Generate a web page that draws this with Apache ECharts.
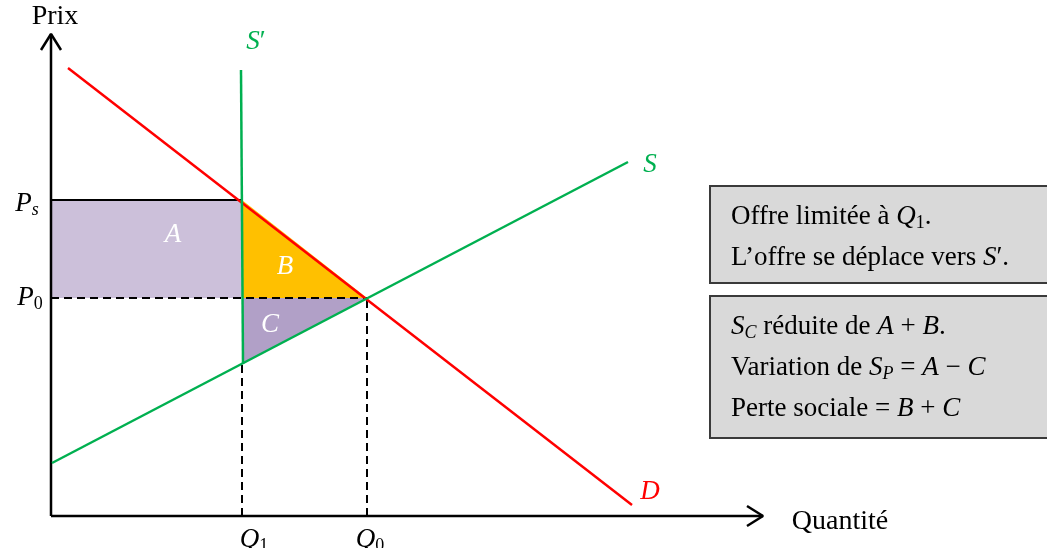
<!DOCTYPE html>
<html>
<head>
<meta charset="utf-8">
<script src="https://cdn.jsdelivr.net/npm/echarts@6/dist/echarts.min.js"></script>
<style>
  html, body { margin: 0; padding: 0; background: #fff; }
  #chart { width: 1047px; height: 548px; }
</style>
</head>
<body>
<div id="chart"></div>
<script>
  // quantités / prix (origine = croisement des axes)
  const Q1 = 191
  const Q0 = 316
  const P0 = 218
  const Ps = 316

  const demandLine = [[17, 448], [581, 11]]
  const supplyLine = [[1, 53], [577, 354]]
  const quotaLine = [[190, 446], [192, 152]]

  const areaA = [[0, P0], [Q1, P0], [Q1, Ps], [0, Ps]]
  const areaB = [[Q1, Ps], [Q1, P0], [Q0, P0]]
  const areaC = [[Q1, P0], [Q0, P0], [Q1, 152]]

  const yAxisLine = [[0, 0], [0, 482]]
  const xAxisLine = [[0, 0], [712, 0]]
  const yArrow = [[-10, 466], [0, 482], [10, 466]]
  const xArrow = [[696, 10], [712, 0], [696, -10]]

  const dashP0 = [[0, P0], [Q0, P0]]
  const dashQ1 = [[Q1, 0], [Q1, 152]]
  const dashQ0 = [[Q0, 0], [Q0, P0]]
  const solidPs = [[0, Ps], [Q1, Ps]]

  // étiquettes : [x, y, texte, couleur]
  const labels = [
    [4, 499, '{t|Prix}', '#000'],
    [789, -6, '{t|Quantité}', '#000'],
    [205, 474, '{i|S}′', '#00B050'],
    [599, 351, '{i|S}', '#00B050'],
    [599, 24, '{i|D}', '#FF0000'],
    [-24, 312, '{i|P}{sub|s}', '#000'],
    [-21, 218, '{i|P}{n|0}', '#000'],
    [203, -24, '{i|Q}{n|1}', '#000'],
    [319, -24, '{i|Q}{n|0}', '#000'],
    [122, 281, '{i|A}', '#fff'],
    [234, 249, '{i|B}', '#fff'],
    [219, 191, '{i|C}', '#fff']
  ]

  const box1Lines = ['Offre limitée à {i|Q}{n|1}.', 'L’offre se déplace vers {i|S}′.']
  const box2Lines = ['{i|S}{sub|C} réduite de {i|A} + {i|B}.', 'Variation de {i|S}{sub|P} = {i|A} − {i|C}', 'Perte sociale = {i|B} + {i|C}']

  const serif = '"Liberation Serif", "DejaVu Serif", serif'
  const richText = {
    t: { fontFamily: serif, fontSize: 28 },
    i: { fontStyle: 'italic', fontFamily: serif, fontSize: 27 },
    sub: { fontStyle: 'italic', fontFamily: serif, fontSize: 18, padding: [12, 0, 0, 0] },
    n: { fontFamily: serif, fontSize: 18, padding: [12, 0, 0, 0] }
  }

  let myChart = echarts.init(document.getElementById('chart'))

  function lineSeries(data, color, width, dashed) {
    return {
      type: 'line',
      data: data,
      symbol: 'none',
      silent: true,
      z: 5,
      lineStyle: { color: color, width: width, type: dashed ? [8, 5] : 'solid' }
    }
  }

  const polys = [
    { pts: areaA, color: '#CCC0DA' },
    { pts: areaB, color: '#FFC000' },
    { pts: areaC, color: '#B1A0C7' }
  ]

  function boxGraphic(top, height, lines) {
    let out = [{
      type: 'rect',
      shape: { x: 710, y: top, width: 345, height: height },
      style: { fill: '#D9D9D9', stroke: '#3a3a3a', lineWidth: 2 }
    }]
    lines.forEach((t, i) => {
      out.push({
        type: 'text',
        x: 731,
        y: top + 31 + i * 41,
        style: {
          text: t,
          fontFamily: serif,
          fontSize: 27,
          fill: '#000',
          verticalAlign: 'middle',
          rich: {
            i: { fontStyle: 'italic', fontFamily: serif, fontSize: 27 },
            sub: { fontStyle: 'italic', fontFamily: serif, fontSize: 18, padding: [12, 0, 0, 0] },
            n: { fontFamily: serif, fontSize: 18, padding: [12, 0, 0, 0] }
          }
        }
      })
    })
    return out
  }

  let option = {
    animation: false,
    grid: { left: 0, right: 0, top: 0, bottom: 0 },
    xAxis: { type: 'value', min: -51, max: 996, show: false },
    yAxis: { type: 'value', min: -32, max: 516, show: false },
    series: [
      {
        type: 'custom',
        silent: true,
        z: 1,
        data: [[0], [1], [2]],
        renderItem: function (params, api) {
          let p = polys[params.dataIndex]
          return {
            type: 'polygon',
            shape: { points: p.pts.map(pt => api.coord(pt)) },
            style: { fill: p.color }
          }
        }
      },
      lineSeries(dashP0, '#000', 2, true),
      lineSeries(dashQ1, '#000', 2, true),
      lineSeries(dashQ0, '#000', 2, true),
      lineSeries(solidPs, '#000', 2, false),
      lineSeries(yAxisLine, '#000', 2.5, false),
      lineSeries(xAxisLine, '#000', 2.5, false),
      lineSeries(yArrow, '#000', 2.5, false),
      lineSeries(xArrow, '#000', 2.5, false),
      lineSeries(demandLine, '#FF0000', 2.5, false),
      lineSeries(supplyLine, '#00B050', 2.5, false),
      lineSeries(quotaLine, '#00B050', 2.5, false),
      {
        type: 'scatter',
        symbolSize: 0,
        silent: true,
        z: 10,
        itemStyle: { opacity: 1 },
        data: labels.map(l => ({
          value: [l[0], l[1]],
          label: { color: l[3] }
        })),
        label: {
          show: true,
          position: 'inside',
          opacity: 1,
          textBorderWidth: 0,
          fontFamily: serif,
          fontSize: 27,
          formatter: function (p) { return labels[p.dataIndex][2] },
          rich: richText
        }
      }
    ],
    graphic: boxGraphic(186, 97, box1Lines).concat(boxGraphic(296, 142, box2Lines))
  }

  myChart.setOption(option, true)
</script>
</body>
</html>
